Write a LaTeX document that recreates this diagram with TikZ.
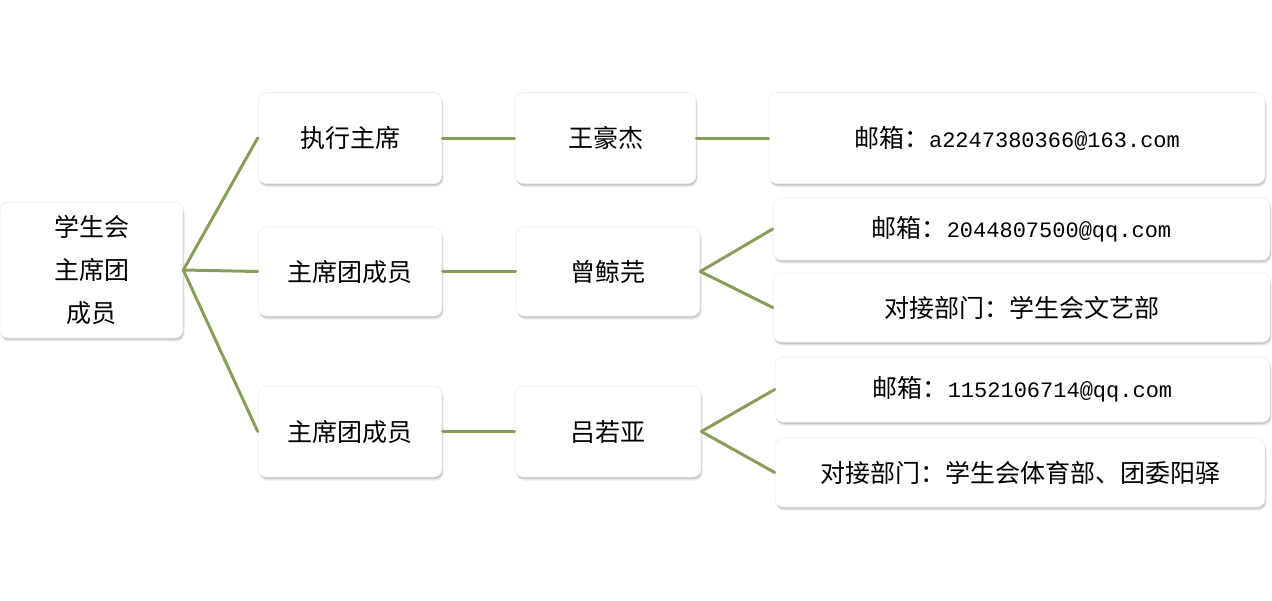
\documentclass[tikz,border=0pt]{standalone}
\usepackage{fontspec}
\usepackage{xcolor}
\usepackage{tikz}
\usetikzlibrary{shadows}
\setmainfont{Noto Sans CJK SC}
\newfontfamily\mailfont{Liberation Mono}
\definecolor{branch}{HTML}{8A9E5B}
\definecolor{shade}{HTML}{8C8C8C}
\newcommand{\addr}[1]{{\fontsize{22}{26}\mailfont #1}}
\tikzset{
  box/.style={rectangle, rounded corners=8pt, fill=white, draw=black!7,
    line width=0.6pt, inner sep=0pt,
    font=\fontsize{25}{43}\selectfont, align=center,
    general shadow={shadow xshift=1.5pt, shadow yshift=-3.5pt, opacity=0.18, fill=shade},
    general shadow={shadow xshift=0.8pt, shadow yshift=-2pt, opacity=0.35, fill=shade}},
  link/.style={draw=branch, line width=3pt, line cap=round},
}
\begin{document}
\begin{tikzpicture}[x=1pt,y=-1pt]
  \useasboundingbox (0,0) rectangle (1272,600);

  % root
  \node[box, minimum width=183pt, minimum height=136pt] (root) at (91.5,270)
    {学生会\\主席团\\成员};

  % first level
  \node[box, minimum width=184pt, minimum height=91pt] (exec) at (350,138) {执行主席};
  \node[box, minimum width=184pt, minimum height=89pt] (memA) at (350,271.5) {主席团成员};
  \node[box, minimum width=184pt, minimum height=91pt] (memB) at (350,431.5) {主席团成员};

  % names
  \node[box, minimum width=181pt, minimum height=91pt] (wang) at (605.5,138) {王豪杰};
  \node[box, minimum width=184pt, minimum height=89pt] (zeng) at (608,271.5) {曾鲸芫};
  \node[box, minimum width=186pt, minimum height=91pt] (lv) at (608,431.5) {吕若亚};

  % details
  \node[box, minimum width=496pt, minimum height=91pt] (wangMail) at (1017,138)
    {邮箱：\addr{a2247380366@163.com}};
  \node[box, minimum width=497pt, minimum height=62pt] (zengMail) at (1021.5,229)
    {邮箱：\addr{2044807500@qq.com}};
  \node[box, minimum width=497pt, minimum height=69pt] (zengDept) at (1021.5,307.5)
    {对接部门：学生会文艺部};
  \node[box, minimum width=495pt, minimum height=65pt] (lvMail) at (1022.5,389.5)
    {邮箱：\addr{1152106714@qq.com}};
  \node[box, minimum width=490pt, minimum height=69pt] (lvDept) at (1020,472.5)
    {对接部门：学生会体育部、团委阳驿};

  % connectors
  \draw[link] (root.east) -- (exec.west);
  \draw[link] (root.east) -- (memA.west);
  \draw[link] (root.east) -- (memB.west);
  \draw[link] (exec.east) -- (wang.west);
  \draw[link] (memA.east) -- (zeng.west);
  \draw[link] (memB.east) -- (lv.west);
  \draw[link] (wang.east) -- (wangMail.west);
  \draw[link] (zeng.east) -- (zengMail.west);
  \draw[link] (zeng.east) -- (zengDept.west);
  \draw[link] (lv.east) -- (lvMail.west);
  \draw[link] (lv.east) -- (lvDept.west);
\end{tikzpicture}
\end{document}
